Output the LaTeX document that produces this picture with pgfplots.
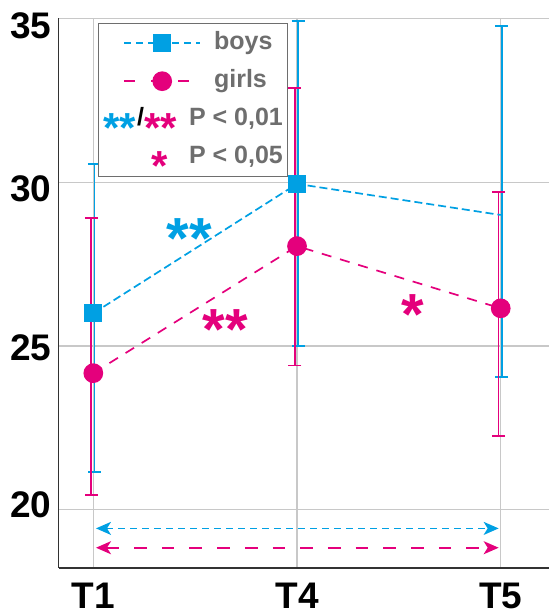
\documentclass[border=0pt]{standalone}
\usepackage{fontspec}
\setmainfont{Liberation Sans}
\usepackage{pgfplots}
\pgfplotsset{compat=1.18}
\usetikzlibrary{arrows.meta}
\definecolor{cboy}{RGB}{0,160,227}
\definecolor{cgirl}{RGB}{228,0,124}
\definecolor{leggray}{RGB}{110,110,110}
\definecolor{gridgray}{RGB}{200,200,200}
\definecolor{axgray}{RGB}{50,50,50}
\newcommand\tickfont{\fontsize{37}{37}\selectfont\bfseries}
\newcommand\legfont{\fontsize{25}{25}\selectfont\bfseries}
\newcommand\legstar{\fontsize{42}{42}\selectfont\bfseries}
\newcommand\plotstar{\fontsize{58}{58}\selectfont\bfseries}
\newcommand\ylab[2]{\raisebox{#1}[26pt][0pt]{#2}}
\pgfplotsset{
  boyleg/.style={legend image code/.code={\draw[##1, mark indices={2}, draw=cboy, line width=1.7pt, dash pattern=on 7pt off 5pt]
     plot coordinates {(0pt,0pt) (38pt,0pt) (76pt,0pt)};}},
  girlleg/.style={legend image code/.code={\draw[##1, mark indices={2}, draw=cgirl, line width=1.7pt, dash pattern=on 11pt off 16pt]
     plot coordinates {(0pt,0pt) (38pt,0pt) (76pt,0pt)};}},
}
\begin{document}
\begin{tikzpicture}
\useasboundingbox (-58.7pt,-46.3pt) rectangle (490.3pt,567.7pt);
\begin{axis}[
 at={(0pt,0pt)}, anchor=south west,
 scale only axis, width=490.3pt, height=549.2pt,
 xmin=-0.17, xmax=2.237, ymin=18.23, ymax=35,
 axis x line=bottom, axis y line=left,
 axis line style={-, line width=1.6pt, draw=axgray},
 xtick={0,1,2}, xticklabels={T1,T4,T5},
 ytick={20,25,30,35},
 yticklabels={\ylab{5pt}{20},\ylab{-1.8pt}{25},\ylab{-6.5pt}{30},\ylab{-7.5pt}{35}},
 grid=major, grid style={line width=1.2pt, draw=gridgray},
 major tick length=0pt,
 /pgf/number format/assume math mode=true,
 tick label style={font=\tickfont, inner sep=0pt},
 xticklabel style={anchor=north, yshift=-15.6pt},
 yticklabel style={anchor=east, xshift=-7pt},
 clip=false,
 legend cell align=left,
 legend style={name=leg, at={(0.0816,0.99)}, anchor=north west, draw=none, fill=white,
   inner xsep=4.3pt, inner ysep=7.5pt, column sep=13pt, row sep=15pt,
   nodes={inner sep=0pt, text height=18pt, text depth=5pt, anchor=west, text=leggray, font=\legfont}},
]
% error bars (boys)
\addplot[forget plot, draw=none, mark=none,
  error bars/.cd, y dir=both, y explicit,
  error bar style={draw=cboy, line width=1.6pt, solid},
  error mark options={draw=cboy, line width=1.6pt, mark size=6.5pt, rotate=90}]
  coordinates {(0.005,26.0) += (0,4.56) -= (0,4.84)
               (1.005,29.95) += (0,4.98) -= (0,4.95)
               (2.005,29.0) += (0,5.78) -= (0,4.95)};
% error bars (girls)
\addplot[forget plot, draw=none, mark=none,
  error bars/.cd, y dir=both, y explicit,
  error bar style={draw=cgirl, line width=1.6pt, solid},
  error mark options={draw=cgirl, line width=1.6pt, mark size=6.5pt, rotate=90}]
  coordinates {(-0.01,24.17) += (0,4.73) -= (0,3.72)
               (0.99,28.05) += (0,4.82) -= (0,3.65)
               (1.99,26.15) += (0,3.55) -= (0,3.89)};
% boys
\addplot[color=cboy, draw=cboy, line width=1.7pt, dash pattern=on 8pt off 4pt, mark=square*, mark size=8.3pt,
  mark options={solid, draw=none, fill=cboy}, mark indices={1,2}, boyleg]
  coordinates {(0,26.0) (1,29.95) (2,29.0)};
\addlegendentry{boys}
% girls
\addplot[color=cgirl, draw=cgirl, line width=1.7pt, dash pattern=on 10pt off 9pt, mark=*, mark size=9pt,
  mark options={solid, draw=none, fill=cgirl}, girlleg]
  coordinates {(0,24.17) (1,28.05) (2,26.15)};
\addlegendentry{girls}
\addlegendimage{legend image code/.code={\path[draw=none,fill=none] (-21pt,0pt) -- (76pt,0pt);
  \node[overlay, anchor=base west, text=cboy, font=\legstar] at (-21pt,-23.1pt) {**};
  \node[overlay, anchor=base, text=black, font=\legfont] at (16.5pt,-6.5pt) {/};
  \node[overlay, anchor=base west, text=cgirl, font=\legstar] at (20pt,-23.1pt) {**};}}
\addlegendentry{\hspace*{-25pt}P < 0,01}
\addlegendimage{legend image code/.code={\path[draw=none,fill=none] (-21pt,0pt) -- (76pt,0pt);
  \node[overlay, anchor=base, text=cgirl, font=\legstar] at (35.5pt,-23.1pt) {*};}}
\addlegendentry{\hspace*{-25pt}P < 0,05}
% bottom arrows
\addplot[forget plot, color=cboy, draw=cboy, line width=1.8pt, dash pattern=on 7pt off 5pt,
  arrows={Stealth[length=15pt,width=13pt,inset=4pt]-Stealth[length=15pt,width=13pt,inset=4pt]}]
  coordinates {(0.013,19.43) (1.99,19.43)};
\addplot[forget plot, color=cgirl, draw=cgirl, line width=1.8pt, dash pattern=on 12.7pt off 15pt,
  arrows={Stealth[length=15pt,width=13pt,inset=4pt]-Stealth[length=15pt,width=13pt,inset=4pt]}]
  coordinates {(0.013,18.84) (1.99,18.84)};
% significance stars
\node[anchor=base, inner sep=0pt, text=cboy, font=\plotstar, yshift=-31.9pt] at (axis cs:0.471,28.64) {**};
\node[anchor=base, inner sep=0pt, text=cgirl, font=\plotstar, yshift=-31.9pt] at (axis cs:0.647,25.87) {**};
\node[anchor=base, inner sep=0pt, text=cgirl, font=\plotstar, yshift=-31.9pt] at (axis cs:1.569,26.33) {*};
\end{axis}
\draw[leggray, line width=1pt] (leg.north west) rectangle (leg.south east);
\end{tikzpicture}
\end{document}
